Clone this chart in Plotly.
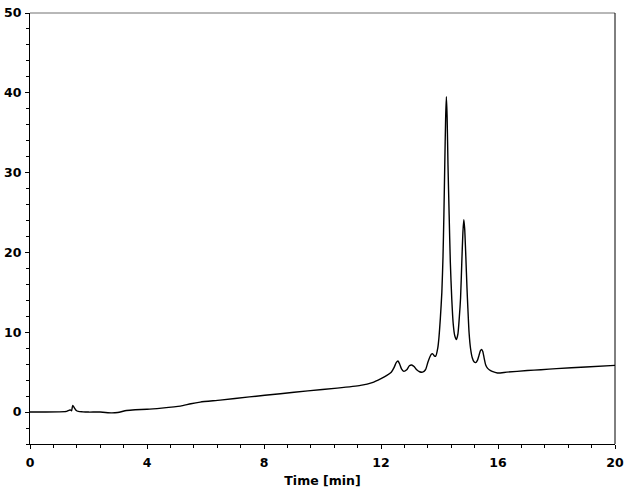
import plotly.graph_objects as go

time_min = [0, 0.5, 1.0, 1.25, 1.33, 1.38, 1.42, 1.46, 1.52, 1.58, 1.65, 1.8, 2.0, 2.4, 2.8, 3.0,
            3.3, 3.6, 4.0, 4.5, 5.14, 5.5, 5.82, 6.5, 7.5, 8.56, 9.5, 10.5, 11.3, 11.7, 12.0,
            12.2, 12.35, 12.45, 12.52, 12.58, 12.64, 12.7, 12.78, 12.88, 12.97, 13.05, 13.13,
            13.22, 13.32, 13.42, 13.52, 13.6, 13.67, 13.72, 13.77, 13.82, 13.87, 13.94, 13.98,
            14.03, 14.08, 14.12, 14.15, 14.18, 14.21, 14.235, 14.26, 14.29, 14.33, 14.37, 14.42,
            14.47, 14.52, 14.58, 14.63, 14.68, 14.72, 14.76, 14.8, 14.83, 14.86, 14.9, 14.94,
            14.97, 15.01, 15.06, 15.12, 15.18, 15.24, 15.3, 15.35, 15.4, 15.44, 15.48, 15.53,
            15.58, 15.64, 15.7, 15.8, 15.98, 16.3, 17.0, 17.47, 18.0, 19.0, 20.0]
signal = [0, 0, 0.02, 0.08, 0.22, 0.28, 0.15, 0.84, 0.5, 0.2, 0.08, 0.03, 0.0, 0.0, -0.1, -0.05,
          0.2, 0.3, 0.35, 0.5, 0.75, 1.05, 1.25, 1.5, 1.9, 2.3, 2.65, 3.0, 3.35, 3.7, 4.2,
          4.6, 5.0, 5.6, 6.2, 6.4, 6.0, 5.4, 5.1, 5.3, 5.8, 5.9, 5.7,
          5.3, 5.05, 5.0, 5.3, 6.2, 6.9, 7.25, 7.3, 7.05, 7.0, 8.0, 9.3,
          11.8, 15.0, 19.5, 24.7, 31.0, 36.8, 39.5, 37.0, 31.0, 24.7, 18.8, 14.1,
          11.0, 9.6, 9.1, 9.8, 12.0, 14.3, 18.5, 22.5, 24.1, 23.0, 19.5, 15.5,
          13.0, 10.0, 8.0, 6.8, 6.3, 6.2, 6.5, 7.1, 7.7, 7.85, 7.6, 6.7,
          5.9, 5.5, 5.3, 5.1, 4.9, 5.0, 5.2, 5.3, 5.45, 5.65, 5.85]

x_ticks = [0, 4, 8, 12, 16, 20]
y_ticks = [0, 10, 20, 30, 40, 50]

fig = go.Figure()
fig.add_trace(go.Scatter(x=time_min, y=signal, mode="lines",
                         line=dict(color="black", width=1.4, shape="spline", smoothing=0.6),
                         hoverinfo="skip"))

tickfont = dict(family="DejaVu Sans, sans-serif", size=12.5, color="black", weight="bold")
fig.update_layout(
    width=632, height=498,
    margin=dict(l=30, r=17, t=13, b=54),
    paper_bgcolor="white", plot_bgcolor="white",
    showlegend=False,
    font=dict(family="DejaVu Sans, sans-serif", color="black"),
    xaxis=dict(range=[0, 20], tickvals=x_ticks, ticks="outside", ticklen=4, tickwidth=1,
               tickcolor="black", showgrid=False, zeroline=False, showline=True,
               linecolor="black", linewidth=1, tickfont=tickfont, automargin=False,
               ticklabelstandoff=3,
               minor=dict(dtick=0.8, tick0=0, ticks="outside", ticklen=3, tickcolor="black",
                          showgrid=False),
               title=dict(text="Time [min]", font=dict(size=12.5, weight="bold"), standoff=7)),
    yaxis=dict(range=[-4, 50], tickvals=y_ticks, ticks="outside", ticklen=4, tickwidth=1,
               tickcolor="black", showgrid=False, zeroline=False, showline=True,
               linecolor="black", linewidth=1, tickfont=tickfont, automargin=False,
               ticklabelstandoff=1,
               minor=dict(dtick=2, tick0=0, ticks="outside", ticklen=3, tickcolor="black",
                          showgrid=False)),
)
fig.add_shape(type="line", xref="paper", yref="paper", x0=0, x1=1, y0=1, y1=1,
              line=dict(color="#707070", width=1))
fig.add_shape(type="line", xref="paper", yref="paper", x0=1, x1=1, y0=0, y1=1,
              line=dict(color="black", width=1))

fig.write_html("out.html")
